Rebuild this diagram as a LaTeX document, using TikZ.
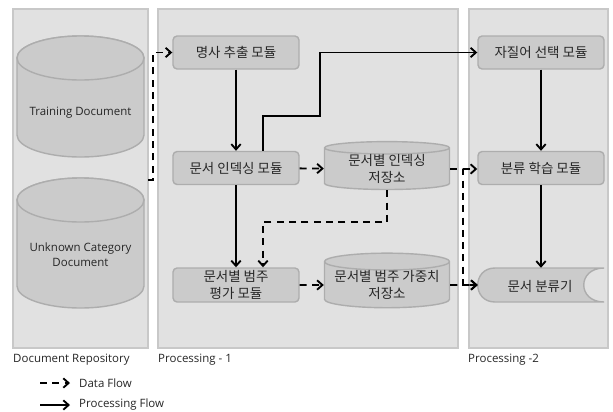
\documentclass[tikz,border=0pt]{standalone}
\usepackage{fontspec}
\setmainfont{Open Sans}
\newfontfamily\kr{Noto Sans CJK KR}
\usetikzlibrary{arrows.meta}
\usetikzlibrary{shapes.geometric}
\usetikzlibrary{calc}

\definecolor{panelgray}{HTML}{E1E1E1}
\definecolor{panelline}{HTML}{C8C8C8}
\definecolor{boxgray}{HTML}{CBCBCB}
\definecolor{boxline}{HTML}{ADADAD}
\definecolor{txtgray}{HTML}{262626}

\tikzset{
  panel/.style={fill=panelgray, draw=panelline, line width=0.9pt},
  shade box/.style={fill=boxgray, draw=boxline, line width=1.2pt},
  module/.style={rectangle, rounded corners=3.5pt, shade box, minimum width=3.78cm,
    minimum height=0.99cm, inner sep=0pt, font=\kr\fontsize{11.5}{15}\selectfont,
    text=txtgray, align=center},
  store/.style={cylinder, shape border rotate=90, aspect=0.16, shade box,
    minimum width=3.75cm, minimum height=0.96cm, inner sep=0pt,
    font=\kr\fontsize{11.5}{14}\selectfont, text=txtgray, align=center},
  caption/.style={anchor=west, inner sep=0pt, text=txtgray,
    font=\fontsize{9.8}{13}\selectfont},
  procflow/.style={line width=1.6pt, -{Straight Barb[length=4.5pt,width=8pt]}},
  dataflow/.style={procflow, dash pattern=on 6pt off 4.5pt},
}

\begin{document}
\begin{tikzpicture}[x=0.03cm, y=-0.03cm]
\useasboundingbox (0,0) rectangle (613,411);

\draw [panel] (13,9) rectangle (148,348);
\draw [panel] (158,9) rectangle (458,348);
\draw [panel] (469,9) rectangle (608,348);
\node [caption] (repolabel) at (13,360) {Document Repository};
\node [caption] (p1label) at (158,360) {Processing - 1};
\node [caption] (p2label) at (468,360) {Processing -2};

\foreach \top/\bot in {58/135, 200/286} {
  \draw [shade box] (17,\top) -- (17,\bot)
    arc [start angle=180, end angle=0, x radius=63.5, y radius=22]
    -- (144,\top) arc [start angle=0, end angle=-180, x radius=63.5, y radius=22] -- cycle;
  \draw [shade box] (80.5,\top) ellipse [x radius=63.5, y radius=22];
}
\node [caption, anchor=center, align=center] (traintxt) at (80.5,113) {Training Document};
\node [caption, anchor=center, align=center] (unknowntxt) at (80.5,255) {Unknown Category\\Document};
\coordinate (repoout) at (148,180);

\node [module] (noun) at (236,52.5) {명사 추출 모듈};
\node [module] (idx) at (236,168) {문서 인덱싱 모듈};
\node [module, minimum height=1.02cm] (cateval) at (236,285) {문서별 범주\\평가 모듈};
\node [store] (idxdb) at (387,169) {문서별 인덱싱\\저장소};
\node [store] (wdb) at (387,285) {문서별 범주 가중치\\저장소};
\node [module] (feat) at (541,52.5) {자질어 선택 모듈};
\node [module] (learn) at (541,168) {분류 학습 모듈};
\node [rectangle, minimum width=3.78cm, minimum height=1.02cm, inner sep=0pt] (clf) at (541,285) {};
\draw [shade box]
  (495,268) -- (604,268) .. controls (577,268) and (577,302) .. (604,302)
  -- (495,302) .. controls (472,302) and (472,268) .. (495,268) -- cycle;
\node [text=txtgray, font=\kr\fontsize{11.5}{15}\selectfont] (clftxt) at (540,286) {문서 분류기};

\draw [procflow] (noun) -- (idx);
\draw [procflow] (idx) -- (cateval);
\draw [procflow] ($(idx.north)+(27,0)$) |- (320,116) |- (feat.west);
\draw [procflow] (feat) -- (learn);
\draw [procflow] (learn) -- (clf.north);

\draw [dataflow] (repoout) -- ++(5,0) |- (noun.west);
\draw [dataflow] (idx) -- (idxdb);
\draw [dataflow] (idxdb.east) -- (learn.west |- idxdb.east);
\draw [dataflow] (idxdb.east) -- ++(13,0) |- (clf.west);
\draw [dataflow] (idxdb.south) |- ($(cateval.north)+(27,-45)$) -- ($(cateval.north)+(27,0)$);
\draw [dataflow] (cateval) -- (wdb);
\draw [dataflow] (wdb) -- (clf.west);

\node [caption] (dflow) at (79,383) {Data Flow};
\node [caption] (pflow) at (79,405) {Processing Flow};
\draw [dataflow] ($(dflow.west)+(-39,0)$) -- ($(dflow.west)+(-9,0)$);
\draw [procflow] ($(pflow.west)+(-39,0)$) -- ($(pflow.west)+(-9,0)$);
\end{tikzpicture}
\end{document}
